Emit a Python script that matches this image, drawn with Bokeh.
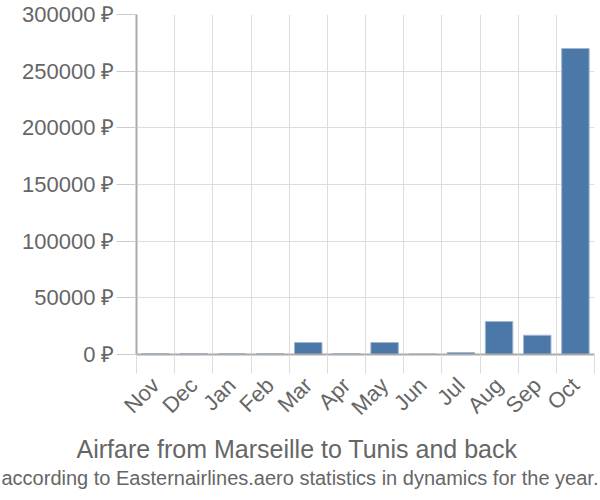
import numpy as np
from bokeh.plotting import figure
from bokeh.models import FixedTicker, PrintfTickFormatter, Title, Range1d
from bokeh.embed import file_html
from bokeh.resources import INLINE

months = ["Nov", "Dec", "Jan", "Feb", "Mar", "Apr", "May", "Jun", "Jul", "Aug", "Sep", "Oct"]
prices = [900, 900, 800, 800, 10600, 800, 10600, 500, 1700, 29100, 17000, 270000]
y_ticks = [0, 50000, 100000, 150000, 200000, 250000, 300000]
title_text = "Airfare from Marseille to Tunis and back"
subtitle_text = "according to Easternairlines.aero statistics in dynamics for the year."

FONT = "Liberation Sans"
TEXT = "#666666"

n = len(months)
xc = np.arange(n) + 0.5

p = figure(width=600, height=500, output_backend="svg", toolbar_location=None,
           x_range=Range1d(0, n), y_range=Range1d(0, 300000),
           min_border_left=136, min_border_right=6, min_border_top=14, min_border_bottom=146)
p.outline_line_color = None
p.background_fill_color = "white"

p.vbar(x=xc, top=prices, width=0.72, fill_color="#4c78a8", line_color="#9fb8d6", line_width=1)

# x axis
p.xaxis.ticker = FixedTicker(ticks=list(xc), minor_ticks=list(range(n + 1)))
p.xaxis.major_label_overrides = {float(x): m for x, m in zip(xc, months)}
p.xaxis.major_tick_line_color = None
p.xaxis.major_tick_out = 0
p.xaxis.major_tick_in = 0
p.xaxis.minor_tick_out = 19
p.xaxis.minor_tick_in = 0
p.xaxis.minor_tick_line_color = "#dddddd"
p.xaxis.major_label_orientation = np.pi / 4
p.xaxis.major_label_standoff = 8
p.xaxis.axis_line_color = "#aaaaaa"
p.xaxis.axis_line_width = 2
p.xaxis.major_label_text_font = FONT
p.xaxis.major_label_text_font_size = "22px"
p.xaxis.major_label_text_color = TEXT

# y axis
p.yaxis.ticker = FixedTicker(ticks=y_ticks)
p.yaxis.formatter = PrintfTickFormatter(format="%d ₽")
p.yaxis.major_tick_out = 20
p.yaxis.major_tick_in = 0
p.yaxis.major_tick_line_color = "#cccccc"
p.yaxis.minor_tick_line_color = None
p.yaxis.axis_line_color = "#aaaaaa"
p.yaxis.axis_line_width = 2
p.yaxis.major_label_standoff = 2
p.yaxis.major_label_text_font = FONT
p.yaxis.major_label_text_font_size = "22px"
p.yaxis.major_label_text_color = TEXT

# grids
p.xgrid.ticker = FixedTicker(ticks=list(range(n + 1)))
p.xgrid.grid_line_color = "#dddddd"
p.xgrid.grid_line_width = 1
p.ygrid.grid_line_color = "#dddddd"
p.ygrid.grid_line_width = 1

# titles below the axis; offsets are relative to the frame's left edge (x=136)
t1 = Title(text=title_text, align="left", offset=-60, standoff=3,
           text_font=FONT, text_font_size="25px", text_font_style="normal",
           text_color=TEXT)
t2 = Title(text=subtitle_text, align="left", offset=-135, standoff=0,
           text_font=FONT, text_font_size="20px", text_font_style="normal",
           text_color=TEXT)
p.add_layout(t1, "below")
p.add_layout(t2, "below")

open("out.html", "w").write(file_html(p, INLINE))
